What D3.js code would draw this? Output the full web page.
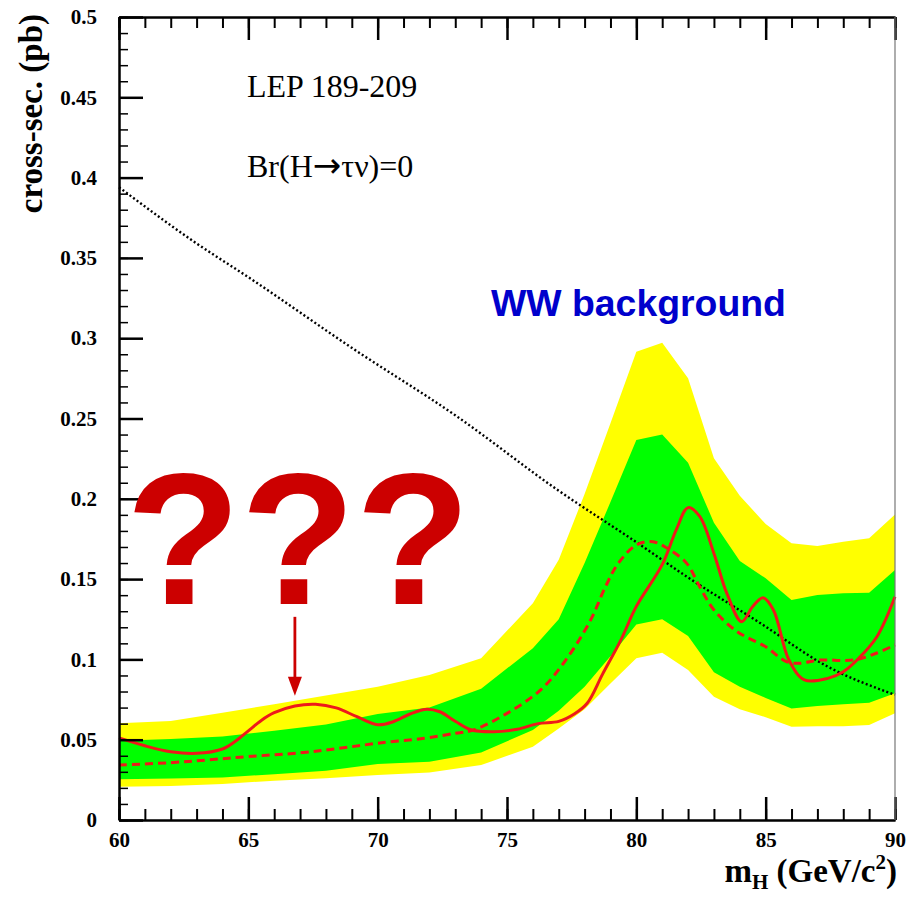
<!DOCTYPE html>
<html>
<head>
<meta charset="utf-8">
<script src="https://cdn.jsdelivr.net/npm/d3@7"></script>
<style>
  html, body { margin: 0; padding: 0; background: #fff; }
  svg { display: block; }
</style>
</head>
<body>
<svg id="chart" width="913" height="898"></svg>
<script>
// Higgs mass grid for the expected-limit bands (GeV/c^2)
const bandMass = [60, 62, 64, 66, 68, 70, 72, 74, 76, 77, 78, 79, 80, 81, 82, 83, 84, 85, 86, 87, 88, 89, 90];
// +-2 sigma band (yellow)
const band2Up = [0.0602, 0.0617, 0.0668, 0.0721, 0.0775, 0.0830, 0.0903, 0.1007, 0.135, 0.162, 0.203, 0.247, 0.2916, 0.2972, 0.275, 0.2252, 0.2019, 0.1843, 0.1723, 0.1706, 0.1733, 0.1754, 0.1903];
const band2Lo = [0.0207, 0.0212, 0.0224, 0.0245, 0.0260, 0.0280, 0.0295, 0.0342, 0.0456, 0.057, 0.069, 0.085, 0.1007, 0.1042, 0.0934, 0.0768, 0.069, 0.064, 0.0581, 0.0583, 0.0583, 0.0592, 0.0664];
// +-1 sigma band (green)
const band1Up = [0.0494, 0.0505, 0.0520, 0.0555, 0.0595, 0.0660, 0.0700, 0.0817, 0.107, 0.125, 0.160, 0.198, 0.2366, 0.2401, 0.2225, 0.1851, 0.1613, 0.1505, 0.137, 0.1401, 0.1412, 0.1415, 0.1557];
const band1Lo = [0.0253, 0.0258, 0.0265, 0.0285, 0.0307, 0.0349, 0.0363, 0.0421, 0.056, 0.068, 0.083, 0.102, 0.1218, 0.125, 0.1146, 0.092, 0.083, 0.076, 0.0695, 0.071, 0.072, 0.073, 0.0789];

// Observed 95% CL limit (solid red)
const obsMass = [60, 61, 62, 63, 64, 64.5, 65, 65.5, 66, 66.8, 67.6, 68.4, 69.2, 70, 70.6, 71.25, 71.9, 72.4, 73, 73.6, 74.5, 75.4, 76.2, 77, 77.6, 78.1, 78.7, 79.4, 80, 81, 81.55, 82, 82.45, 83, 83.5, 84.07, 84.5, 84.9, 85.3, 85.9, 86.5, 87.4, 88, 88.6, 89.3, 90];
const obsLimit = [0.0511, 0.0462, 0.0425, 0.0415, 0.0442, 0.0490, 0.0555, 0.0620, 0.0668, 0.0710, 0.0721, 0.0698, 0.0643, 0.0593, 0.0612, 0.0660, 0.0690, 0.0674, 0.0615, 0.0562, 0.0550, 0.0565, 0.0600, 0.0614, 0.0660, 0.0727, 0.0910, 0.1120, 0.1330, 0.1590, 0.1810, 0.1945, 0.1890, 0.1660, 0.1411, 0.1235, 0.1330, 0.1384, 0.1308, 0.0996, 0.0872, 0.0882, 0.0923, 0.1007, 0.1141, 0.1390];

// Median expected limit (dashed red)
const expMass = [60, 62, 63.5, 65, 67, 68.5, 70, 71.8, 73, 73.7, 75, 76.3, 77.2, 78.2, 78.8, 79.3, 80, 80.65, 81.3, 81.95, 82.45, 83, 83.9, 85, 85.8, 86.3, 87.1, 88.4, 89.3, 90];
const expLimit = [0.0342, 0.0357, 0.0375, 0.0395, 0.0418, 0.0446, 0.0478, 0.0509, 0.0540, 0.0560, 0.0664, 0.0810, 0.0980, 0.1235, 0.1450, 0.1598, 0.1712, 0.1733, 0.1681, 0.1598, 0.1453, 0.1308, 0.1173, 0.1079, 0.0986, 0.0976, 0.0996, 0.0996, 0.1040, 0.1090];

// Predicted WW-like cross-section (dotted black)
const predMass = [60, 63, 65, 69, 73, 77, 80, 82, 84.8, 87.4, 90];
const predXsec = [0.394, 0.359, 0.338, 0.294, 0.252, 0.205, 0.173, 0.151, 0.1225, 0.0955, 0.078];

// Axis ticks and labels
const xMajor = [60, 65, 70, 75, 80, 85, 90];
const xMajorLabels = ["60", "65", "70", "75", "80", "85", "90"];
const xMinor = d3.range(60, 91, 1);
const yMajor = [0, 0.05, 0.1, 0.15, 0.2, 0.25, 0.3, 0.35, 0.4, 0.45, 0.5];
const yMajorLabels = ["0", "0.05", "0.1", "0.15", "0.2", "0.25", "0.3", "0.35", "0.4", "0.45", "0.5"];
const yMinor = d3.range(0, 0.5001, 0.01);

// Arrow pointing at the low-mass excess
const arrowMass = 66.8;
const arrowFrom = 0.1265;
const arrowTo = 0.0773;

const svg = d3.select("#chart");
const serif = "'Liberation Serif', 'Times New Roman', Times, serif";
const sans = "'Liberation Sans', Arial, Helvetica, sans-serif";

const x = d3.scaleLinear().domain([60, 90]).range([119, 895]);
const y = d3.scaleLinear().domain([0, 0.5]).range([820, 17]);

// Bands
const area = (lo, hi) => d3.area()
  .x((d, i) => x(bandMass[i]))
  .y0((d, i) => y(lo[i]))
  .y1((d, i) => y(hi[i]));

svg.append("path").attr("d", area(band2Lo, band2Up)(bandMass)).attr("fill", "#ffff00");
svg.append("path").attr("d", area(band1Lo, band1Up)(bandMass)).attr("fill", "#00ff00");

// Dotted prediction
svg.append("path")
  .attr("d", d3.line().x((d, i) => x(predMass[i])).y(d => y(d)).curve(d3.curveMonotoneX)(predXsec))
  .attr("fill", "none").attr("stroke", "#000").attr("stroke-width", 2.4)
  .attr("stroke-dasharray", "2,2.4");

// Expected limit
svg.append("path")
  .attr("d", d3.line().x((d, i) => x(expMass[i])).y(d => y(d)).curve(d3.curveCatmullRom.alpha(0.5))(expLimit))
  .attr("fill", "none").attr("stroke", "#ee1a1a").attr("stroke-width", 3)
  .attr("stroke-dasharray", "8,5");

// Observed limit
svg.append("path")
  .attr("d", d3.line().x((d, i) => x(obsMass[i])).y(d => y(d)).curve(d3.curveCatmullRom.alpha(0.5))(obsLimit))
  .attr("fill", "none").attr("stroke", "#ee1a1a").attr("stroke-width", 3);

// Axes (ticks drawn inward)
function styleAxis(g, w) {
  g.select(".domain").attr("stroke", "#000").attr("stroke-width", 2);
  g.selectAll(".tick line").attr("stroke", "#000").attr("stroke-width", w);
}

svg.append("g").attr("transform", "translate(0,820)")
  .call(d3.axisBottom(x).tickValues(xMinor).tickSizeInner(-11).tickSizeOuter(0).tickFormat(""))
  .call(g => styleAxis(g, 2));
svg.append("g").attr("transform", "translate(0,820)")
  .call(d3.axisBottom(x).tickValues(xMajor).tickSizeInner(-23).tickSizeOuter(0).tickPadding(12)
    .tickFormat((d, i) => xMajorLabels[i]))
  .call(g => styleAxis(g, 2.5))
  .call(g => g.selectAll("text").attr("font-family", serif).attr("font-weight", "bold")
    .attr("font-size", 21).attr("fill", "#000"));

svg.append("g").attr("transform", "translate(0,17)")
  .call(d3.axisTop(x).tickValues(xMinor).tickSizeInner(-11).tickSizeOuter(0).tickFormat(""))
  .call(g => styleAxis(g, 2));
svg.append("g").attr("transform", "translate(0,17)")
  .call(d3.axisTop(x).tickValues(xMajor).tickSizeInner(-23).tickSizeOuter(0).tickFormat(""))
  .call(g => styleAxis(g, 2.5));

svg.append("g").attr("transform", "translate(119,0)")
  .call(d3.axisLeft(y).tickValues(yMinor).tickSizeInner(-9).tickSizeOuter(0).tickFormat(""))
  .call(g => styleAxis(g, 1.5));
svg.append("g").attr("transform", "translate(119,0)")
  .call(d3.axisLeft(y).tickValues(yMajor).tickSizeInner(-24).tickSizeOuter(0).tickPadding(22)
    .tickFormat((d, i) => yMajorLabels[i]))
  .call(g => styleAxis(g, 2.5))
  .call(g => g.selectAll("text").attr("font-family", serif).attr("font-weight", "bold")
    .attr("font-size", 21).attr("fill", "#000"));

// Right frame edge
svg.append("line").attr("x1", 895).attr("x2", 895).attr("y1", 17).attr("y2", 820)
  .attr("stroke", "#777").attr("stroke-width", 1.2);

// Axis titles
svg.append("text")
  .attr("transform", "translate(42,14) rotate(-90)")
  .attr("text-anchor", "end")
  .attr("font-family", serif).attr("font-weight", "bold").attr("font-size", 33)
  .text("cross-sec. (pb)");

const xt = svg.append("text")
  .attr("x", 897).attr("y", 882).attr("text-anchor", "end")
  .attr("font-family", serif).attr("font-weight", "bold").attr("font-size", 33);
xt.append("tspan").text("m");
xt.append("tspan").attr("font-size", 21).attr("dy", 7).text("H");
xt.append("tspan").attr("dy", -7).text(" (GeV/c");
xt.append("tspan").attr("font-size", 21).attr("dy", -13).text("2");
xt.append("tspan").attr("dy", 13).text(")");

// Labels inside the frame
svg.append("text").attr("x", 247).attr("y", 97)
  .attr("font-family", serif).attr("font-size", 32).text("LEP 189-209");
const br = svg.append("text").attr("x", 247).attr("y", 177)
  .attr("font-family", serif).attr("font-size", 32);
br.append("tspan").text("Br(H");
br.append("tspan").attr("font-family", "'DejaVu Sans', sans-serif").attr("font-size", 34).text("\u2192");
br.append("tspan").text("\u03c4\u03bd)=0");

svg.append("text").attr("x", 491).attr("y", 316)
  .attr("font-family", sans).attr("font-weight", "bold").attr("font-size", 37.4)
  .attr("fill", "#0000cc").text("WW background");

svg.append("text").attr("x", 298).attr("y", 604).attr("text-anchor", "middle")
  .attr("font-family", sans).attr("font-weight", "bold").attr("font-size", 188)
  .attr("fill", "#cc0000").text("???");

// Arrow
const ax = x(arrowMass), ay0 = y(arrowFrom), ay1 = y(arrowTo);
svg.append("line").attr("x1", ax).attr("x2", ax).attr("y1", ay0).attr("y2", ay1 - 10)
  .attr("stroke", "#cc0000").attr("stroke-width", 2.8);
svg.append("path")
  .attr("d", `M${ax - 7},${ay1 - 19}L${ax + 7},${ay1 - 19}L${ax},${ay1}Z`)
  .attr("fill", "#cc0000");
</script>
</body>
</html>
